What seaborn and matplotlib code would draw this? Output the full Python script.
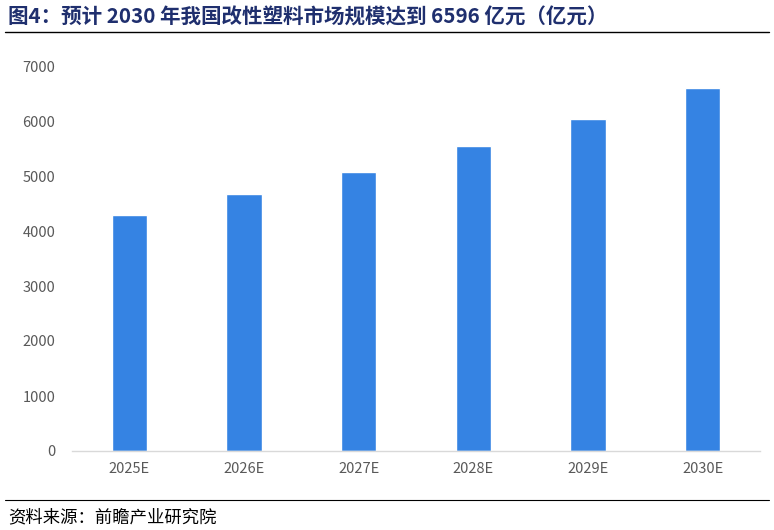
import matplotlib
matplotlib.use("Agg")
import matplotlib.pyplot as plt
import pandas as pd
import seaborn as sns
from matplotlib.lines import Line2D

years = ["2025E", "2026E", "2027E", "2028E", "2029E", "2030E"]
values = [4300, 4670, 5080, 5540, 6040, 6596]
yticks = [0, 1000, 2000, 3000, 4000, 5000, 6000, 7000]

title = "图4：预计 2030 年我国改性塑料市场规模达到 6596 亿元（亿元）"
source = "资料来源：前瞻产业研究院"

sns.set_theme(style="white")
plt.rcParams['font.family'] = ['Noto Sans CJK SC', 'DejaVu Sans']

df = pd.DataFrame({"year": years, "value": values})

fig = plt.figure(figsize=(7.74, 5.30), dpi=100)
ax = fig.add_axes([72 / 774, 1 - 451 / 530, 688 / 774, 385 / 530])

sns.barplot(data=df, x="year", y="value", color="#3583E3", width=0.31,
            saturation=1, ax=ax)

ax.set_ylim(0, 7000)
ax.set_yticks(yticks)
ax.set_xlabel("")
ax.set_ylabel("")
ax.tick_params(axis="both", labelsize=10.5, colors="#595959", length=0)
ax.tick_params(axis="y", pad=12)
ax.tick_params(axis="x", pad=8)
for s in ["top", "right", "left"]:
    ax.spines[s].set_visible(False)
ax.spines["bottom"].set_color("#D9D9D9")
ax.spines["bottom"].set_linewidth(1)

# title and source
fig.text(8 / 774, 1 - 17 / 530, title, fontsize=14.8, fontweight="bold",
         color="#1F2F6E", va="center", ha="left")
fig.add_artist(Line2D([5 / 774, 769 / 774], [1 - 32 / 530, 1 - 32 / 530],
                      color="black", lw=1, transform=fig.transFigure))
fig.add_artist(Line2D([5 / 774, 769 / 774], [1 - 500 / 530, 1 - 500 / 530],
                      color="black", lw=0.8, transform=fig.transFigure))
fig.text(8 / 774, 1 - 517 / 530, source, fontsize=12.5, color="black",
         va="center", ha="left")

fig.savefig("out.png", dpi=100)
